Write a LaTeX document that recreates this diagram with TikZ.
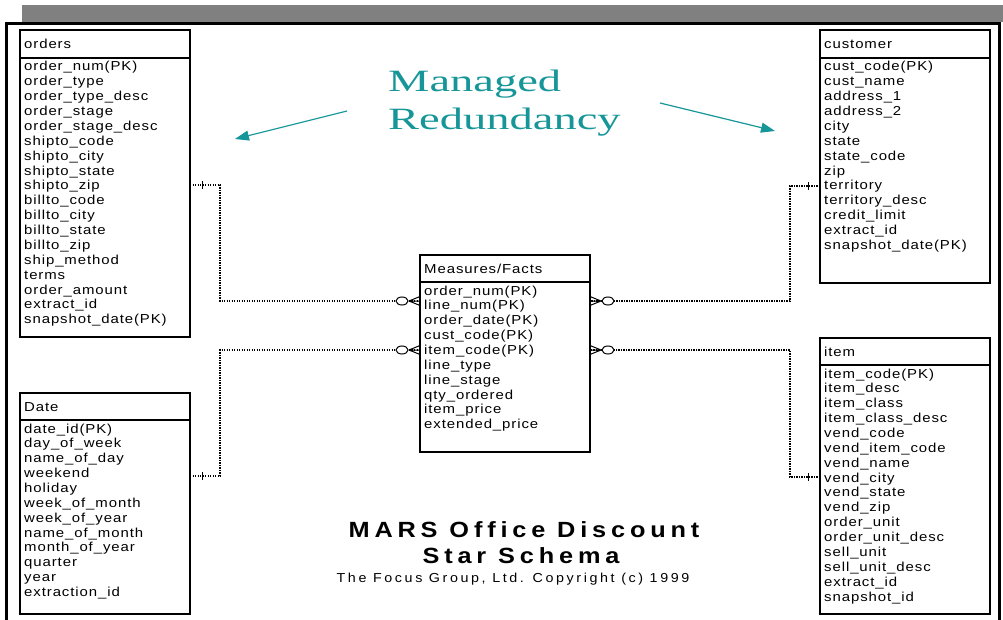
\documentclass[tikz,border=0pt]{standalone}
\usepackage{fontspec}
\setmainfont{Liberation Sans}
\newfontfamily\tabfont[FakeStretch=1.15,LetterSpace=7]{Liberation Sans}
\newfontfamily\titlefont[FakeStretch=1.15,LetterSpace=22]{Liberation Sans}
\newfontfamily\creditfont[FakeStretch=1.1,LetterSpace=20]{Liberation Sans}
\newfontfamily\notefont[FakeStretch=1.5]{Liberation Serif}
\usetikzlibrary{arrows.meta,calc}
\definecolor{noteteal}{RGB}{22,150,152}
\definecolor{bandgray}{RGB}{128,128,128}

\tikzset{
  tablebox/.style={draw=black, line width=1.5pt, inner sep=0pt, outer sep=0pt,
    minimum width=170pt, fill=white},
  tableline/.style={draw=black, line width=1.2pt},
  fieldtext/.style={anchor=base west, inner sep=0pt,
    font={\tabfont\fontsize{13}{15}\selectfont}},
  rel/.style={draw=black, line width=1.3pt, dash pattern=on 1.2pt off 1.3pt},
  symb/.style={draw=black, line width=1pt},
  notetext/.style={anchor=base west, inner sep=0pt, text=noteteal,
    font={\notefont\fontsize{31}{36}\selectfont}},
  notearrow/.style={draw=noteteal, line width=1.2pt,
    -{Triangle[length=14pt,width=10pt]}},
}

% entity table: name, left x, top y, header rule y, bottom y, title, fields
\newcommand\entitytable[7]{%
  \node[tablebox, minimum height={(#5-#3)*1pt}, anchor=north west] (#1) at (#2,#3) {};
  \draw[tableline] (#2,#4) -- ++(170,0);
  \node[fieldtext] at ({#2+4},{#3+18.5}) {#6};
  \foreach \f [count=\i from 0] in {#7}
    \node[fieldtext] at ({#2+4},{#4+13+\i*14.87}) {\f};
}

% many side of a link: oval plus crow's foot, #1 = point on the box edge, #2 = +1 left / -1 right
\newcommand\manyend[2]{%
  \draw[symb, fill=white] ($(#1)+(-18*#2,0)$) ellipse [x radius=6pt, y radius=4pt];
  \draw[symb] ($(#1)+(-11*#2,0)$) -- ($(#1)+(0,-4.5)$)
              ($(#1)+(-11*#2,0)$) -- (#1)
              ($(#1)+(-11*#2,0)$) -- ($(#1)+(0,4.5)$);
}
% one side of a link: short bar across the line
\newcommand\oneend[2]{%
  \draw[symb] ($(#1)+(12*#2,-4)$) -- ++(0,8);
}

\begin{document}
\begin{tikzpicture}[x=1pt,y=-1pt]
\useasboundingbox (0,0) rectangle (1003,620);
\fill[white] (0,0) rectangle (1003,620);

% window band and frame
\fill[bandgray] (22,5) rectangle (1003,22);
\draw[black, line width=3pt] (6,640) -- (6,23.5) -- (999.5,23.5) -- (999.5,640);

% dimension tables
\entitytable{orders}{20}{30}{58}{337}{orders}{%
  order\_num(PK),order\_type,order\_type\_desc,order\_stage,order\_stage\_desc,
  shipto\_code,shipto\_city,shipto\_state,shipto\_zip,billto\_code,billto\_city,
  billto\_state,billto\_zip,ship\_method,terms,order\_amount,extract\_id,snapshot\_date(PK)}

\entitytable{customer}{820}{30}{58}{283}{customer}{%
  cust\_code(PK),cust\_name,address\_1,address\_2,city,state,state\_code,zip,
  territory,territory\_desc,credit\_limit,extract\_id,snapshot\_date(PK)}

\entitytable{date}{20}{393}{420}{614}{Date}{%
  date\_id(PK),day\_of\_week,name\_of\_day,weekend,holiday,week\_of\_month,
  week\_of\_year,name\_of\_month,month\_of\_year,quarter,year,extraction\_id}

\entitytable{item}{820}{338}{365}{614}{item}{%
  item\_code(PK),item\_desc,item\_class,item\_class\_desc,vend\_code,
  vend\_item\_code,vend\_name,vend\_city,vend\_state,vend\_zip,order\_unit,
  order\_unit\_desc,sell\_unit,sell\_unit\_desc,extract\_id,snapshot\_id}

% fact table
\entitytable{facts}{420}{255}{282}{452}{Measures/Facts}{%
  order\_num(PK),line\_num(PK),order\_date(PK),cust\_code(PK),item\_code(PK),
  line\_type,line\_stage,qty\_ordered,item\_price,extended\_price}

% link end points on the box edges
\coordinate (ordersR) at (orders.east |- 0,185);
\coordinate (dateR)   at (date.east |- 0,476);
\coordinate (custL)   at (customer.west |- 0,186);
\coordinate (itemL)   at (item.west |- 0,477);
\coordinate (factsLa) at (facts.west |- 0,301);
\coordinate (factsLb) at (facts.west |- 0,350);
\coordinate (factsRa) at (facts.east |- 0,301);
\coordinate (factsRb) at (facts.east |- 0,350);

% relationships
\draw[rel] (ordersR) -- ++(30,0) |- (factsLa);
\draw[rel] (dateR)   -- ++(30,0) |- (factsLb);
\draw[rel] (custL)   -- ++(-30,0) |- (factsRa);
\draw[rel] (itemL)   -- ++(-30,0) |- (factsRb);

\oneend{ordersR}{1}
\oneend{dateR}{1}
\oneend{custL}{-1}
\oneend{itemL}{-1}
\manyend{factsLa}{1}
\manyend{factsLb}{1}
\manyend{factsRa}{-1}
\manyend{factsRb}{-1}

% annotation
\node[notetext] (note1) at (388,92) {Managed};
\node[notetext] (note2) at (388,130) {Redundancy};
\coordinate (noteLfrom) at (347,111);
\coordinate (noteLto)   at (235,139);
\coordinate (noteRfrom) at (660,103);
\coordinate (noteRto)   at (775,131);
\draw[notearrow] (noteLfrom) -- (noteLto);
\draw[notearrow] (noteRfrom) -- (noteRto);

% caption
\node[anchor=base, inner sep=0pt, font={\titlefont\bfseries\fontsize{22}{25}\selectfont}]
  (title1) at (524,537) {MARS Office Discount};
\node[anchor=base, inner sep=0pt, font={\titlefont\bfseries\fontsize{22}{25}\selectfont}]
  (title2) at (521,563) {Star Schema};
\node[anchor=base, inner sep=0pt, font={\creditfont\fontsize{13}{15}\selectfont}]
  (credit) at (513,582) {The Focus Group, Ltd. Copyright (c) 1999};
\end{tikzpicture}
\end{document}
